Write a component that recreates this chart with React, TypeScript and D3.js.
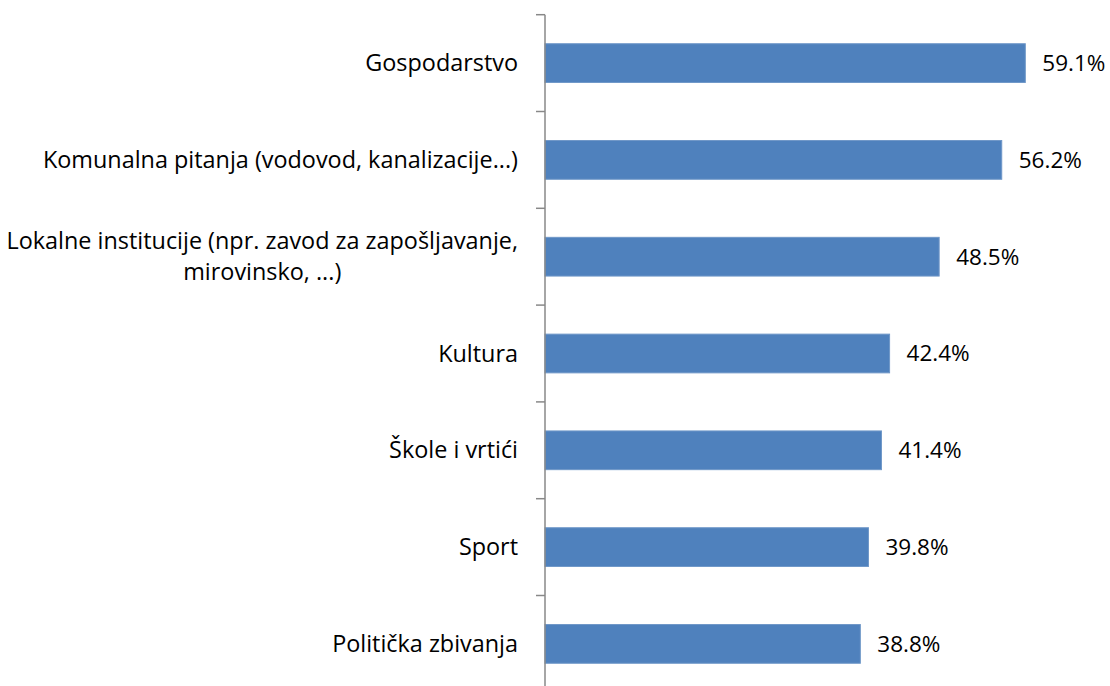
import { useEffect, useRef } from 'react';
import * as d3 from 'd3';

// categories, top to bottom (each may hold several lines)
const categories: string[][] = [
  ['Gospodarstvo'],
  ['Komunalna pitanja (vodovod, kanalizacije...)'],
  ['Lokalne institucije (npr. zavod za zapošljavanje,', 'mirovinsko, ...)'],
  ['Kultura'],
  ['Škole i vrtići'],
  ['Sport'],
  ['Politička zbivanja'],
];
const values = [59.1, 56.2, 48.5, 42.4, 41.4, 39.8, 38.8];

const W = 1110;
const H = 686;
const FONT = '"Open Sans", sans-serif';

export default function App() {
  const svgRef = useRef<SVGSVGElement>(null);

  useEffect(() => {
    if (!svgRef.current) return;
    const svg = d3.select(svgRef.current);
    svg.selectAll('*').remove();

    const axisX = 545;
    const top = 14.7;
    const step = 96.8;

    const yScale = d3.scaleBand<number>()
      .domain(d3.range(categories.length))
      .range([top, top + step * categories.length])
      .paddingInner(0.6)
      .paddingOuter(0.3);

    const xScale = d3.scaleLinear()
      .domain([0, 70])
      .range([axisX, axisX + 70 * 8.127]);

    const g = svg.append('g');

    // bars
    g.selectAll('.bar')
      .data(values)
      .join('rect')
      .attr('class', 'bar')
      .attr('x', xScale(0))
      .attr('y', (d, i) => yScale(i)!)
      .attr('width', d => xScale(d) - xScale(0))
      .attr('height', yScale.bandwidth())
      .attr('fill', '#4f81bd')
      .attr('stroke', '#6f97c8')
      .attr('stroke-width', 1);

    // value labels
    g.selectAll('.val')
      .data(values)
      .join('text')
      .attr('class', 'val')
      .attr('x', d => xScale(d) + 17)
      .attr('y', (d, i) => yScale(i)! + yScale.bandwidth() / 2)
      .attr('dy', '0.35em')
      .style('font-family', FONT)
      .style('font-size', '22.5px')
      .style('fill', '#000')
      .text(d => `${d.toFixed(1)}%`);

    // category labels: block right-aligned to the axis, lines centred within the block
    const lineH = 31;
    const labelRight = axisX - 27;
    g.selectAll('.cat')
      .data(categories)
      .join('text')
      .attr('class', 'cat')
      .attr('y', (d, i) => yScale(i)! + yScale.bandwidth() / 2 - ((d.length - 1) * lineH) / 2)
      .attr('text-anchor', 'middle')
      .style('font-family', FONT)
      .style('font-size', '23.4px')
      .style('fill', '#000')
      .each(function (d) {
        const t = d3.select(this);
        const spans = d.map((line, j) =>
          t.append('tspan')
            .attr('dy', j === 0 ? '0.35em' : `${lineH}px`)
            .text(line)
        );
        const widest = d3.max(spans, s => (s.node() as SVGTSpanElement).getComputedTextLength()) || 0;
        spans.forEach(s => s.attr('x', labelRight - widest / 2));
      });

    // axis line and ticks
    const axis = svg.append('g').attr('stroke', '#888').attr('stroke-width', 1.5);
    axis.append('line')
      .attr('x1', axisX).attr('x2', axisX)
      .attr('y1', top).attr('y2', top + step * categories.length);
    axis.selectAll('.tick')
      .data(d3.range(categories.length + 1))
      .join('line')
      .attr('x1', axisX - 9).attr('x2', axisX)
      .attr('y1', i => top + i * step)
      .attr('y2', i => top + i * step);
  }, []);

  return (
    <svg
      ref={svgRef}
      width={W}
      height={H}
      style={{ position: 'absolute', left: 0, top: 0, background: '#fff' }}
    />
  );
}
